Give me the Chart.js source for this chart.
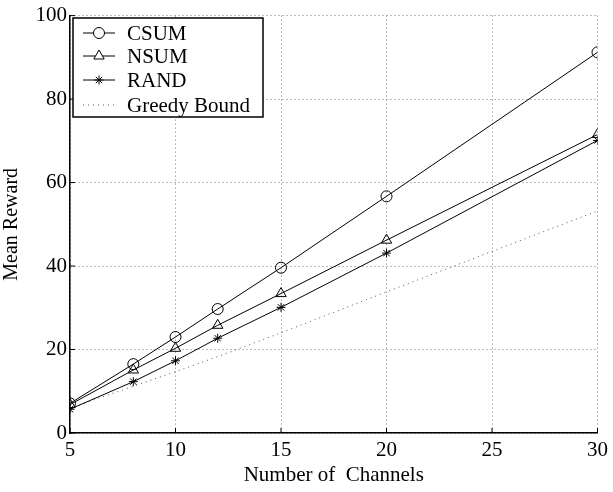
<!DOCTYPE html>
<html>
<head>
<meta charset="utf-8">
<script src="https://cdn.jsdelivr.net/npm/chart.js@4/dist/chart.umd.min.js"></script>
<style>
  html, body { margin: 0; padding: 0; background: #fff; }
  #wrap { width: 613px; height: 492px; }
</style>
</head>
<body>
<div id="wrap"><canvas id="chart" width="613" height="492"></canvas></div>
<script>
var channels = [5, 8, 10, 12, 15, 20, 30];
var csum = [7.1, 16.5, 23.0, 29.7, 39.6, 56.7, 91.2];
var nsum = [6.8, 15.1, 20.3, 25.8, 33.4, 46.2, 71.5];
var rand = [5.7, 12.3, 17.3, 22.7, 30.1, 43.1, 70.1];
var greedy = [6.0, 11.2, 14.7, 18.3, 24.0, 33.8, 53.2];
var xTicks = [5, 10, 15, 20, 25, 30];
var yTicks = [0, 20, 40, 60, 80, 100];

var serif = "'Liberation Serif', 'DejaVu Serif', serif";

function toPoints(vals) {
  return channels.map(function(c, i) { return {x: c, y: vals[i]}; });
}

var legendBox = {
  id: 'legendBox',
  afterDraw: function(chart) {
    var ctx = chart.ctx;
    var x0 = 73, y0 = 18, w = 190, h = 99;
    ctx.save();
    ctx.fillStyle = '#fff';
    ctx.fillRect(x0, y0, w, h);
    ctx.strokeStyle = '#000';
    ctx.lineWidth = 1.5;
    ctx.setLineDash([]);
    ctx.strokeRect(x0, y0, w, h);
    var rows = [33, 56, 80, 105];
    chart.data.datasets.forEach(function(ds, i) {
      var y = rows[i];
      ctx.strokeStyle = ds.borderColor;
      ctx.lineWidth = 1;
      ctx.setLineDash(ds.borderDash || []);
      ctx.beginPath();
      ctx.moveTo(83, y);
      ctx.lineTo(115, y);
      ctx.stroke();
      ctx.setLineDash([]);
      if (ds.pointRadius > 0) {
        ctx.fillStyle = '#fff';
        ctx.strokeStyle = '#000';
        Chart.helpers.drawPoint(ctx, {
          pointStyle: ds.pointStyle, radius: ds.pointRadius, rotation: 0, borderWidth: 1
        }, 99, y);
      }
      ctx.fillStyle = '#000';
      ctx.font = '21px ' + serif;
      ctx.textBaseline = 'middle';
      ctx.fillText(ds.label, 127, y + 1);
    });
    ctx.restore();
  }
};

// small inward tick marks
var innerTicks = {
  id: 'innerTicks',
  afterDatasetsDraw: function(chart) {
    var ctx = chart.ctx, a = chart.chartArea;
    var xs = chart.scales.x, ys = chart.scales.y;
    ctx.save();
    ctx.strokeStyle = '#000';
    ctx.lineWidth = 1;
    ctx.beginPath();
    xTicks.forEach(function(t) {
      var px = xs.getPixelForValue(t);
      ctx.moveTo(px, a.bottom); ctx.lineTo(px, a.bottom - 5);
    });
    yTicks.forEach(function(t) {
      var py = ys.getPixelForValue(t);
      ctx.moveTo(a.left, py); ctx.lineTo(a.left + 5, py);
    });
    ctx.stroke();
    ctx.restore();
  }
};

new Chart(document.getElementById('chart'), {
  type: 'line',
  data: {
    datasets: [
      { label: 'CSUM', data: toPoints(csum), borderColor: '#000', borderWidth: 1,
        pointStyle: 'circle', pointRadius: 5.5, pointBorderColor: '#000',
        pointBackgroundColor: 'rgba(0,0,0,0)', pointBorderWidth: 1 },
      { label: 'NSUM', data: toPoints(nsum), borderColor: '#000', borderWidth: 1,
        pointStyle: 'triangle', pointRadius: 6, pointBorderColor: '#000',
        pointBackgroundColor: 'rgba(0,0,0,0)', pointBorderWidth: 1 },
      { label: 'RAND', data: toPoints(rand), borderColor: '#000', borderWidth: 1,
        pointStyle: 'star', pointRadius: 4.5, pointBorderColor: '#000',
        pointBackgroundColor: 'rgba(0,0,0,0)', pointBorderWidth: 1 },
      { label: 'Greedy Bound', data: toPoints(greedy), borderColor: '#555', borderWidth: 1,
        borderDash: [1, 4], pointRadius: 0 }
    ]
  },
  options: {
    responsive: false,
    animation: false,
    layout: { padding: { top: 15, right: 11, left: 0, bottom: 0 } },
    plugins: { legend: { display: false }, tooltip: { enabled: false } },
    scales: {
      x: {
        type: 'linear', min: 5, max: 30,
        afterBuildTicks: function(s) { s.ticks = xTicks.map(function(v) { return {value: v}; }); },
        afterFit: function(s) { s.height = 59; },
        grid: { color: '#777', drawTicks: false, lineWidth: 1 },
        border: { display: true, color: '#000', width: 1.5, dash: [1, 3] },
        ticks: { color: '#000', font: { family: serif, size: 21 }, padding: 5, maxRotation: 0 },
        title: { display: true, text: 'Number of  Channels', color: '#000',
                 font: { family: serif, size: 21 }, padding: { top: 0, bottom: 4 } }
      },
      y: {
        min: 0, max: 100,
        afterBuildTicks: function(s) { s.ticks = yTicks.map(function(v) { return {value: v}; }); },
        afterFit: function(s) { s.width = 70; },
        grid: { color: '#777', drawTicks: false, lineWidth: 1 },
        border: { display: true, color: '#000', width: 1.5, dash: [1, 3] },
        ticks: { color: '#000', font: { family: serif, size: 21 }, padding: 3 },
        title: { display: true, text: 'Mean Reward', color: '#000',
                 font: { family: serif, size: 20 }, padding: { top: 0, bottom: 2 } }
      }
    }
  },
  plugins: [innerTicks, legendBox]
});
</script>
</body>
</html>
